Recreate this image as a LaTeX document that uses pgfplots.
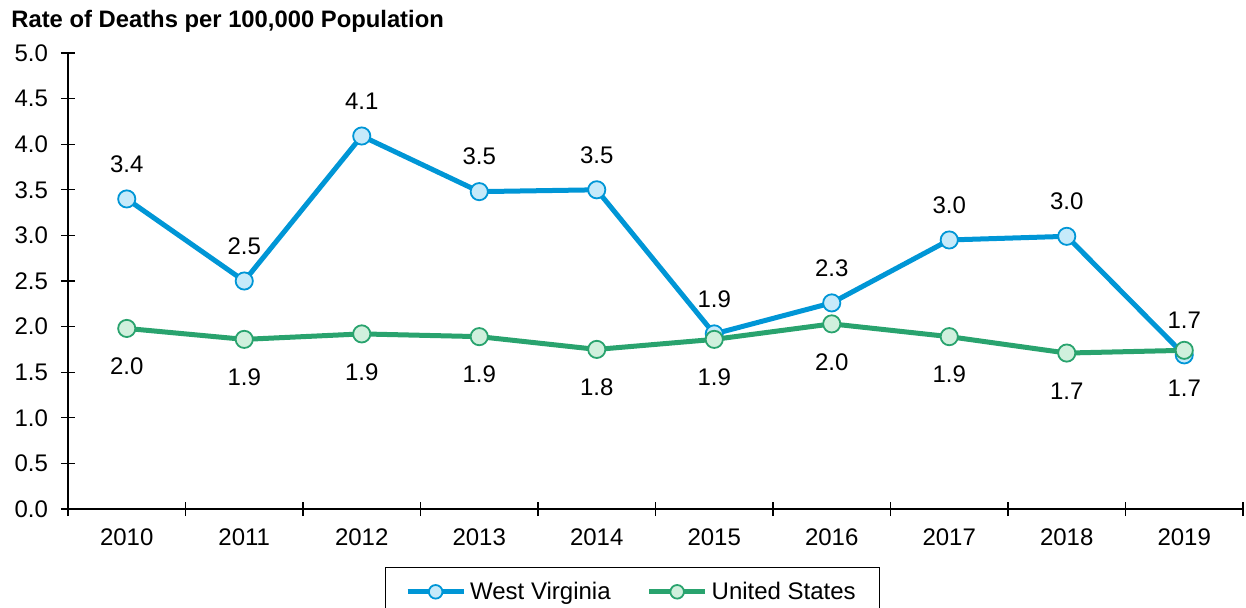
\documentclass[border=0pt]{standalone}
\usepackage{pgfplots}
\pgfplotsset{compat=1.18}
\usepackage{fontspec}
\setmainfont{Liberation Sans}
\definecolor{wvline}{RGB}{0,150,214}
\definecolor{wvfill}{RGB}{198,234,250}
\definecolor{usline}{RGB}{41,163,110}
\definecolor{usfill}{RGB}{208,240,221}
\begin{document}
\begin{tikzpicture}[x=1pt,y=1pt]
\path[use as bounding box] (-34,-49) rectangle (589,254.5);
\begin{axis}[
  at={(0,0)}, anchor=south west,
  scale only axis, width=587.5pt, height=228pt,
  xmin=-0.5, xmax=9.5, ymin=0, ymax=5,
  axis x line*=bottom, axis y line*=left,
  axis line style={black, line width=0.6pt},
  xtick={-0.5,0.5,...,9.5},
  x tick label as interval,
  xticklabels={2010,2011,2012,2013,2014,2015,2016,2017,2018,2019},
  ytick={0,0.5,...,5},
  tick align=center, major tick length=7pt,
  tick style={black, line width=0.6pt},
  /pgf/number format/assume math mode=true,
  yticklabel={\pgfmathprintnumber[fixed,precision=1,zerofill]{\tick}},
  tick label style={font=\fontsize{12}{14}\selectfont},
  yticklabel style={xshift=-3pt},
  xticklabel style={yshift=-3pt},
  clip=false,
  nodes near coords={\pgfmathprintnumber[fixed,precision=1,zerofill,assume math mode=true]{\pgfplotspointmeta}},
  point meta=explicit,
  legend columns=2,
  legend style={at={(axis description cs:0.4804,-0.1272)}, anchor=north,
    draw=black, line width=0.6pt, font=\fontsize{12}{14}\selectfont,
    inner xsep=10pt, inner ysep=5pt,
    /tikz/every even column/.append style={column sep=16pt}},
  legend image code/.code={%
    \draw[#1, mark size=3.4pt, mark repeat=2, mark phase=2] plot coordinates {(3pt,0pt) (17pt,0pt) (31pt,0pt)};},
  legend cell align=left,
]
\addplot[wvline, line width=2.5pt,
  mark=*, mark size=4.3pt, mark options={fill=wvfill, draw=wvline, line width=0.9pt},
  every node near coord/.append style={anchor=center, yshift=17.5pt, black, font=\fontsize{12}{14}\selectfont}]
  table[meta=m] {
x y m
0 3.40 3.4
1 2.50 2.5
2 4.09 4.1
3 3.48 3.5
4 3.50 3.5
5 1.92 1.9
6 2.26 2.3
7 2.95 3.0
8 2.99 3.0
9 1.69 1.7
};
\addlegendentry{West Virginia}
\addplot[usline, line width=2.5pt,
  mark=*, mark size=4.3pt, mark options={fill=usfill, draw=usline, line width=0.9pt},
  every node near coord/.append style={anchor=center, yshift=-19pt, black, font=\fontsize{12}{14}\selectfont}]
  table[meta=m] {
x y m
0 1.98 2.0
1 1.86 1.9
2 1.92 1.9
3 1.89 1.9
4 1.75 1.8
5 1.86 1.9
6 2.03 2.0
7 1.89 1.9
8 1.71 1.7
9 1.74 1.7
};
\addlegendentry{United States}
\end{axis}
\node[anchor=west, inner sep=0pt, font=\bfseries\fontsize{11.9}{14}\selectfont] at (-28.5,244) {Rate of Deaths per 100,000 Population};
\end{tikzpicture}
\end{document}
